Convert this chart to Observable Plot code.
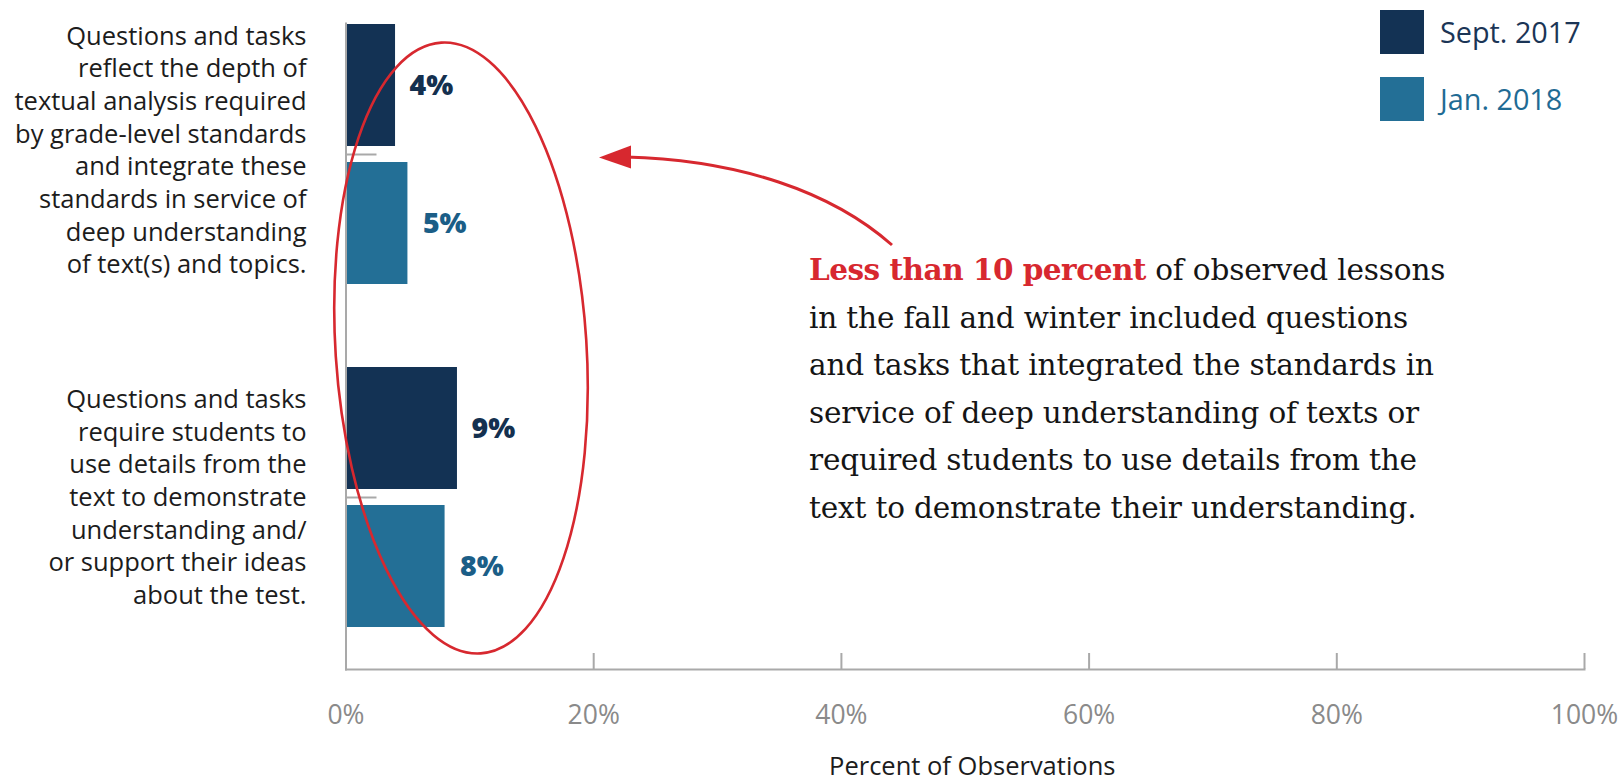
<!DOCTYPE html>
<html>
<head>
<meta charset="utf-8">
<script src="https://cdn.jsdelivr.net/npm/d3@7"></script>
<script src="https://cdn.jsdelivr.net/npm/@observablehq/plot@0.6"></script>
<style>
  html, body { margin: 0; padding: 0; background: #fff; }
  #wrap { position: relative; width: 1621px; height: 782px; overflow: hidden; font-family: "Open Sans", sans-serif; }
  #legend { position: absolute; left: 1380px; top: 10px; }
  .lg-row { display: flex; align-items: center; height: 44px; margin-bottom: 22.5px; }
  .lg-sw { width: 44px; height: 44px; margin-right: 16px; }
  .lg-tx { font-size: 28.8px; line-height: 44px; }
  #note { position: absolute; left: 809px; top: 246px; font-family: "DejaVu Serif", serif; font-size: 29.5px; letter-spacing: -0.15px; line-height: 47.6px; color: #151515; white-space: nowrap; }
  #note b { color: #d7282f; letter-spacing: -0.5px; }
</style>
</head>
<body>
<div id="wrap">
  <div id="chart"></div>
  <div id="legend"></div>
  <div id="note"></div>
</div>
<script>
// ---- data ----
const categories = [
  "Questions and tasks reflect the depth of textual analysis required by grade-level standards and integrate these standards in service of deep understanding of text(s) and topics.",
  "Questions and tasks require students to use details from the text to demonstrate understanding and/or support their ideas about the test."
];
const categoryLines = [
  ["Questions and tasks", "reflect the depth of", "textual analysis required", "by grade-level standards", "and integrate these", "standards in service of", "deep understanding", "of text(s) and topics."],
  ["Questions and tasks", "require students to", "use details from the", "text to demonstrate", "understanding and/", "or support their ideas", "about the test."]
];
const series = ["Sept. 2017", "Jan. 2018"];
const sept2017 = [4, 9];
const jan2018 = [5, 8];
const xTicks = [0, 20, 40, 60, 80, 100];
const barColors = ["#133254", "#236f96"];
const labelColors = ["#14304f", "#1b5e87"];
const legendTextColors = ["#1b3556", "#1f6b94"];
const noteHighlight = "Less than 10 percent";
const noteLines = [
  " of observed lessons",
  "in the fall and winter included questions",
  "and tasks that integrated the standards in",
  "service of deep understanding of texts or",
  "required students to use details from the",
  "text to demonstrate their understanding."
];
const xLabel = "Percent of Observations";

// ---- table ----
const rows = [];
categories.forEach((c, i) => {
  rows.push({category: c, series: series[0], value: sept2017[i]});
  rows.push({category: c, series: series[1], value: jan2018[i]});
});
const labelOf = new Map(categories.map((c, i) => [c, categoryLines[i].join("\n")]));

const gray = "#a9a9a9";
const half = 138; // inset for each half of the band
const yText = {anchor: "left", tickSize: 0, tickPadding: 39.5, tickFormat: d => labelOf.get(d), fill: "#1c1c1c",
  fontSize: 25.5, lineHeight: 1.282, label: null};

const plot = Plot.plot({
  width: 1621,
  height: 782,
  marginLeft: 345.5,
  marginRight: 37,
  marginTop: 23,
  marginBottom: 113,
  style: {fontFamily: "Open Sans", background: "transparent", overflow: "visible"},
  x: {domain: [0, 100], ticks: xTicks, label: null},
  y: {domain: categories, range: [23, 628], paddingInner: 0.241, paddingOuter: 0, align: 0.5, label: null},
  color: {domain: series, range: barColors},
  marks: [
    Plot.barX(rows.filter(d => d.series === series[0]), {x: "value", y: "category", fill: "series", insetBottom: half}),
    Plot.barX(rows.filter(d => d.series === series[1]), {x: "value", y: "category", fill: "series", insetTop: half}),
    Plot.frame({anchor: "left", stroke: gray, strokeWidth: 2}),
    Plot.frame({anchor: "bottom", stroke: gray, strokeWidth: 2}),
    Plot.axisX(xTicks, {anchor: "bottom", tickSize: -16, stroke: gray, strokeWidth: 2, fill: "none", label: null}),
    Plot.axisX(xTicks, {anchor: "bottom", tickSize: 0, tickPadding: 36, tickFormat: d => d + "%", fill: "#8a8a8a", fontSize: 26.5, label: null}),
    Plot.text([xLabel], {frameAnchor: "bottom", lineAnchor: "bottom", dy: 105, dx: 7, fill: "#1c1c1c", fontSize: 25.5}),
    Plot.axisY({anchor: "left", tickSize: -31, stroke: gray, strokeWidth: 2, fill: "none", label: null}),
    Plot.axisY([categories[0]], {...yText, dy: -6}),
    Plot.axisY([categories[1]], {...yText, dy: -2}),
    Plot.text(rows.filter(d => d.series === series[0]), {x: "value", y: "category", text: d => d.value + "%", dx: 14, dy: -69,
      textAnchor: "start", fill: labelColors[0], fontSize: 28.5, fontWeight: 800}),
    Plot.text(rows.filter(d => d.series === series[1]), {x: "value", y: "category", text: d => d.value + "%", dx: 15, dy: 69,
      textAnchor: "start", fill: labelColors[1], fontSize: 28.5, fontWeight: 800})
  ]
});
document.getElementById("chart").appendChild(plot);

// ---- annotation overlay (ellipse + arrow) ----
const red = "#d7282f";
const ann = {cx: 461, cy: 348, rx: 125.5, ry: 306, rot: -3.7,
  arrowPath: "M892,245 C832,192 740,160 626,157", head: [[599, 157.5], [631, 145.5], [631, 168.5]]};
const svg = d3.select(plot.tagName.toLowerCase() === "svg" ? plot : plot.querySelector("svg"));
svg.append("ellipse")
  .attr("cx", ann.cx).attr("cy", ann.cy).attr("rx", ann.rx).attr("ry", ann.ry)
  .attr("transform", `rotate(${ann.rot} ${ann.cx} ${ann.cy})`)
  .attr("fill", "none").attr("stroke", red).attr("stroke-width", 2.6);
svg.append("path").attr("d", ann.arrowPath).attr("fill", "none").attr("stroke", red).attr("stroke-width", 3);
svg.append("path").attr("d", "M" + ann.head.map(p => p.join(",")).join("L") + "Z").attr("fill", red);

// ---- legend ----
const legend = d3.select("#legend");
series.forEach((s, i) => {
  const row = legend.append("div").attr("class", "lg-row");
  row.append("div").attr("class", "lg-sw").style("background", barColors[i]);
  row.append("div").attr("class", "lg-tx").style("color", legendTextColors[i]).text(s);
});

// ---- note ----
const note = d3.select("#note");
note.append("b").text(noteHighlight);
note.append("span").text(noteLines[0]);
noteLines.slice(1).forEach(l => { note.append("br"); note.append("span").text(l); });
</script>
</body>
</html>
